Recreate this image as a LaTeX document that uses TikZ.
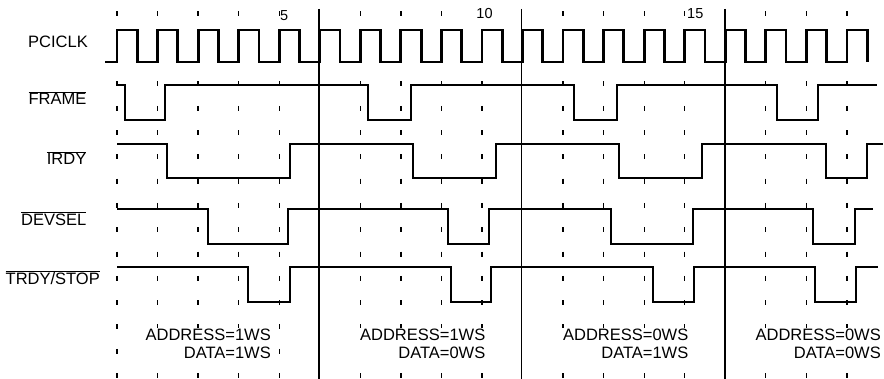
\documentclass[tikz,border=0pt]{standalone}
\usepackage{fontspec}
\setmainfont{Liberation Sans}
\usetikzlibrary{backgrounds}
\pgfdeclarelayer{mid}
\pgfsetlayers{background,mid,main}
\newcommand\ovl[1]{$\overline{\hbox{#1}}$}
\begin{document}
\begin{tikzpicture}[x=1pt,y=-1pt,
  wave/.style={line width=2.8pt, line join=miter, line cap=butt},
  tickmark/.style={line width=1.3pt},
  marker/.style={line width=1.1pt},
  siglabel/.style={anchor=base east, inner sep=0pt, font=\fontsize{16.5}{18}\selectfont},
  wslabel/.style={anchor=base east, inner sep=1pt, font=\fontsize{16.5}{18}\selectfont},
  numlabel/.style={anchor=base west, inner sep=0.5pt, font=\fontsize{14.5}{16}\selectfont}]
\useasboundingbox (0,0) rectangle (884,379);

% timing grid (short tick marks)
\begin{pgfonlayer}{background}
\foreach \k in {1,2,3,4,5,7,8,9,10,12,13,14,15,17,18,19}{
  \pgfmathsetmacro\tx{117+(\k-1)*40.55}
  \draw[tickmark] (\tx,14) ++(0,-2.5) -- ++(0,5);
  \foreach \j in {0,...,12}{
    \pgfmathsetmacro\ty{84+24.3*\j}
    \draw[tickmark] (\tx,\ty) ++(0,-2.5) -- ++(0,5);
  }
}
\end{pgfonlayer}

% solid separators
\draw[marker] (319,9) -- (319,379);
\draw[marker] (521.5,9) -- (521.5,379);
\draw[marker] (725,9) -- (725,379);

% signal labels
\node[siglabel] (pciclk) at (88,47.5) {PCICLK};
\node[siglabel] (frame) at (86.5,105) {\ovl{FRAME}};
\node[siglabel] (irdy) at (86.5,165) {\ovl{IRDY}};
\node[siglabel] (devsel) at (86.5,225.5) {\ovl{DEVSEL}};
\node[siglabel] (trdy) at (100,285) {\ovl{TRDY/STOP}};

% clock numbers
\node[numlabel] (n5) at (279.5,21) {5};
\node[numlabel, anchor=base, fill=white] (n10) at (484.5,19) {10};
\node[numlabel] (n15) at (686.5,19) {15};

% PCICLK
\draw[wave] (105,62) foreach \k in {1,...,19}{
  -- ({117+(\k-1)*40.55},62) -- ++(0,-32) -- ++(20.27,0) -- ++(0,32) };

% FRAME#
\draw[wave] (117,85) -- (125,85) -- (125,120) -- (165,120) -- (165,85)
  -- (368,85) -- (368,120) -- (411,120) -- (411,85)
  -- (574,85) -- (574,120) -- (617,120) -- (617,85)
  -- (777,85) -- (777,120) -- (818,120) -- (818,85) -- (877,85);

% IRDY#
\draw[wave] (117,144) -- (167,144) -- (167,178) -- (290,178) -- (290,144)
  -- (413,144) -- (413,178) -- (496,178) -- (496,144)
  -- (619,144) -- (619,178) -- (702,178) -- (702,144)
  -- (826,144) -- (826,178) -- (867,178) -- (867,144) -- (883,144);

% DEVSEL#
\draw[wave] (117,209) -- (208,209) -- (208,244) -- (288,244) -- (288,209)
  -- (448,209) -- (448,244) -- (489,244) -- (489,209)
  -- (611,209) -- (611,244) -- (693,244) -- (693,209)
  -- (813,209) -- (813,244) -- (855,244) -- (855,209) -- (873,209);

% TRDY#/STOP#
\draw[wave] (117,267) -- (248,267) -- (248,302) -- (290,302) -- (290,267)
  -- (451,267) -- (451,302) -- (491,302) -- (491,267)
  -- (653,267) -- (653,302) -- (694,302) -- (694,267)
  -- (815,267) -- (815,302) -- (856,302) -- (856,267) -- (878,267);

% wait-state annotations
\node[wslabel] (a1) at (272,341) {ADDRESS=1WS};
\node[wslabel] (d1) at (272,359) {DATA=1WS};
\node[wslabel] (a2) at (486.5,341) {ADDRESS=1WS};
\node[wslabel] (d2) at (486.5,359) {DATA=0WS};
\node[wslabel] (a3) at (689.5,341) {ADDRESS=0WS};
\node[wslabel] (d3) at (689.5,359) {DATA=1WS};
\node[wslabel] (a4) at (882,341) {ADDRESS=0WS};
\node[wslabel] (d4) at (882,359) {DATA=0WS};

\begin{pgfonlayer}{mid}
\foreach \i in {1,2,3,4}
  \fill[white] (a\i.west |- 0,327.8) rectangle (d\i.east |- 0,362.5);
\end{pgfonlayer}
\end{tikzpicture}
\end{document}
